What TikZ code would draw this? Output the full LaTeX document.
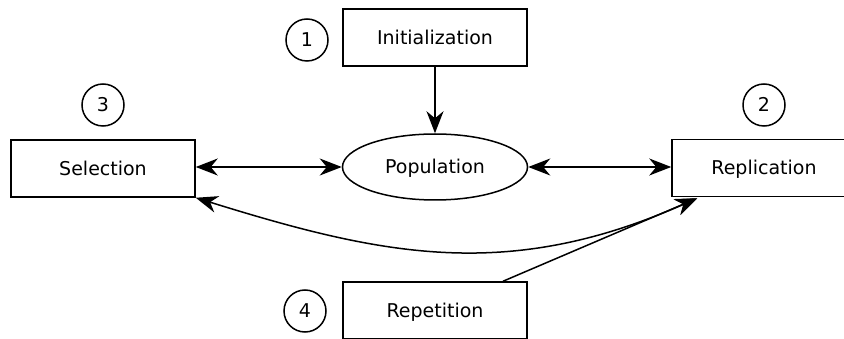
\documentclass[tikz,border=0pt]{standalone}
\usepackage{fontspec}
\setmainfont{DejaVu Sans}
\usetikzlibrary{arrows.meta,shapes.geometric,calc}
\begin{document}
\begin{tikzpicture}[x=1pt,y=-1pt,
  line width=1.5pt,
  every node/.style={font=\fontsize{19}{23}\selectfont, text height=13.9pt, text depth=0pt},
  stagebox/.style={draw, rectangle, minimum width=184pt, minimum height=57pt, inner sep=0pt},
  popshape/.style={draw, ellipse, minimum width=185pt, minimum height=66pt, inner sep=0pt},
  stepnum/.style={draw, circle, minimum size=42pt, inner sep=0pt, font=\fontsize{19}{23}\selectfont},
  link/.style={-{Stealth[length=22pt,width=17pt,inset=7pt]}},
  twoway/.style={{Stealth[length=22pt,width=17pt,inset=7pt]}-{Stealth[length=22pt,width=17pt,inset=7pt]}}
]
\useasboundingbox (0,0) rectangle (844,339);
\clip (0,0) rectangle (844,339);

% stages
\node[stagebox] (init) at (435,37.5) {Initialization};
\node[stagebox] (sel)  at (103,168.5) {Selection};
\node[stagebox] (rep)  at (764,168) {Replication};
\node[stagebox] (reps) at (435,310.5) {Repetition};
\node[popshape] (pop)  at (435,167) {Population};

% step numbers
\node[stepnum] (n1) at (307,40) {1};
\node[stepnum] (n2) at (764,105) {2};
\node[stepnum] (n3) at (103,105) {3};
\node[stepnum] (n4) at (305,311) {4};

% connectors
\draw[link] (init.south) -- (pop.north);
\draw[twoway] (sel.east |- pop.west) -- (pop.west);
\draw[twoway] (pop.east) -- (rep.west |- pop.east);

\coordinate (rtip) at ($(rep.south west)+(26,1)$);
\coordinate (stip) at (sel.south east);
\coordinate (rout) at ($(reps.north)+(68,0)$);

\draw[twoway] (stip) .. controls (383,256) and (508,282) .. (rtip);
\draw[link] (rout) -- (rtip);
\end{tikzpicture}
\end{document}
